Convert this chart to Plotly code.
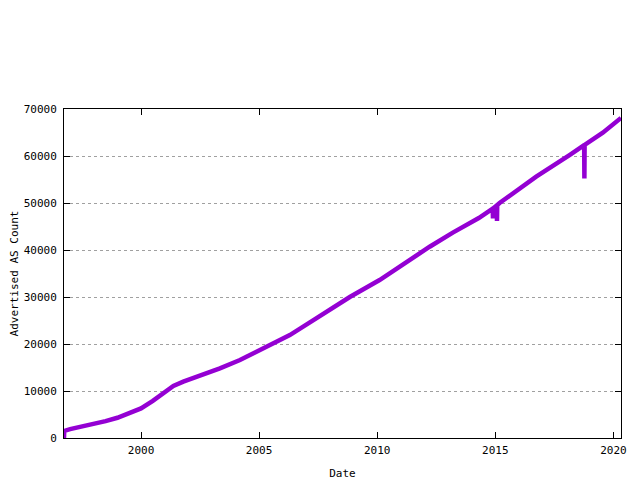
import plotly.graph_objects as go

# Date (decimal year) and advertised AS count
dates = [1996.74, 1996.75, 1997.0, 1997.5, 1998.0, 1998.5, 1999.0, 1999.5, 2000.0,
         2000.5, 2001.0, 2001.37, 2001.79, 2002.5, 2003.34, 2004.19, 2005.17,
         2006.3, 2007.4, 2008.84, 2010.1, 2011.23, 2012.22, 2013.2, 2014.3,
         2014.89, 2014.90, 2014.91, 2015.06, 2015.07, 2015.08, 2015.18,
         2016.73, 2018.14, 2018.76, 2018.77, 2018.78, 2019.55, 2020.32]
counts = [0, 1500, 1900, 2400, 3000, 3600, 4300, 5200, 6300,
          7900, 9850, 11060, 11980, 13190, 14820, 16600, 19080,
          21900, 25400, 30000, 33600, 37500, 40700, 43700, 46800,
          48800, 46700, 48850, 49500, 46200, 49550, 50000,
          55600, 60200, 62300, 55200, 62350, 64960, 68100]

x_ticks = [2000, 2005, 2010, 2015, 2020]
y_ticks = [0, 10000, 20000, 30000, 40000, 50000, 60000, 70000]

font = dict(family="DejaVu Sans Mono", size=11, color="black")

fig = go.Figure()
fig.add_trace(go.Scatter(x=dates, y=counts, mode="lines",
                         line=dict(color="#9400d3", width=4.5),
                         showlegend=False, hoverinfo="skip"))

fig.update_layout(
    width=632, height=472,
    margin=dict(l=56, r=19, t=101, b=42, autoexpand=False),
    paper_bgcolor="white", plot_bgcolor="white",
    font=font,
    showlegend=False,
)
fig.update_xaxes(
    range=[1996.74, 2020.32], automargin=False,
    tickvals=x_ticks, ticktext=[str(v) for v in x_ticks],
    showgrid=False, zeroline=False,
    showline=True, linecolor="black", linewidth=1, mirror="ticks",
    ticks="inside", ticklen=6, tickcolor="black", ticklabelstandoff=2,
    title=dict(text="Date", font=font, standoff=14),
)
fig.update_yaxes(
    range=[0, 70000], automargin=False,
    tickvals=y_ticks, ticktext=[str(v) for v in y_ticks],
    showgrid=True, gridcolor="#a0a0a0", griddash="dot", gridwidth=1,
    zeroline=False,
    showline=True, linecolor="black", linewidth=1, mirror="ticks",
    ticks="inside", ticklen=6, tickcolor="black", ticklabelstandoff=4,
    title=dict(text="Advertised AS Count", font=font, standoff=7),
)

fig.write_html("out.html")
